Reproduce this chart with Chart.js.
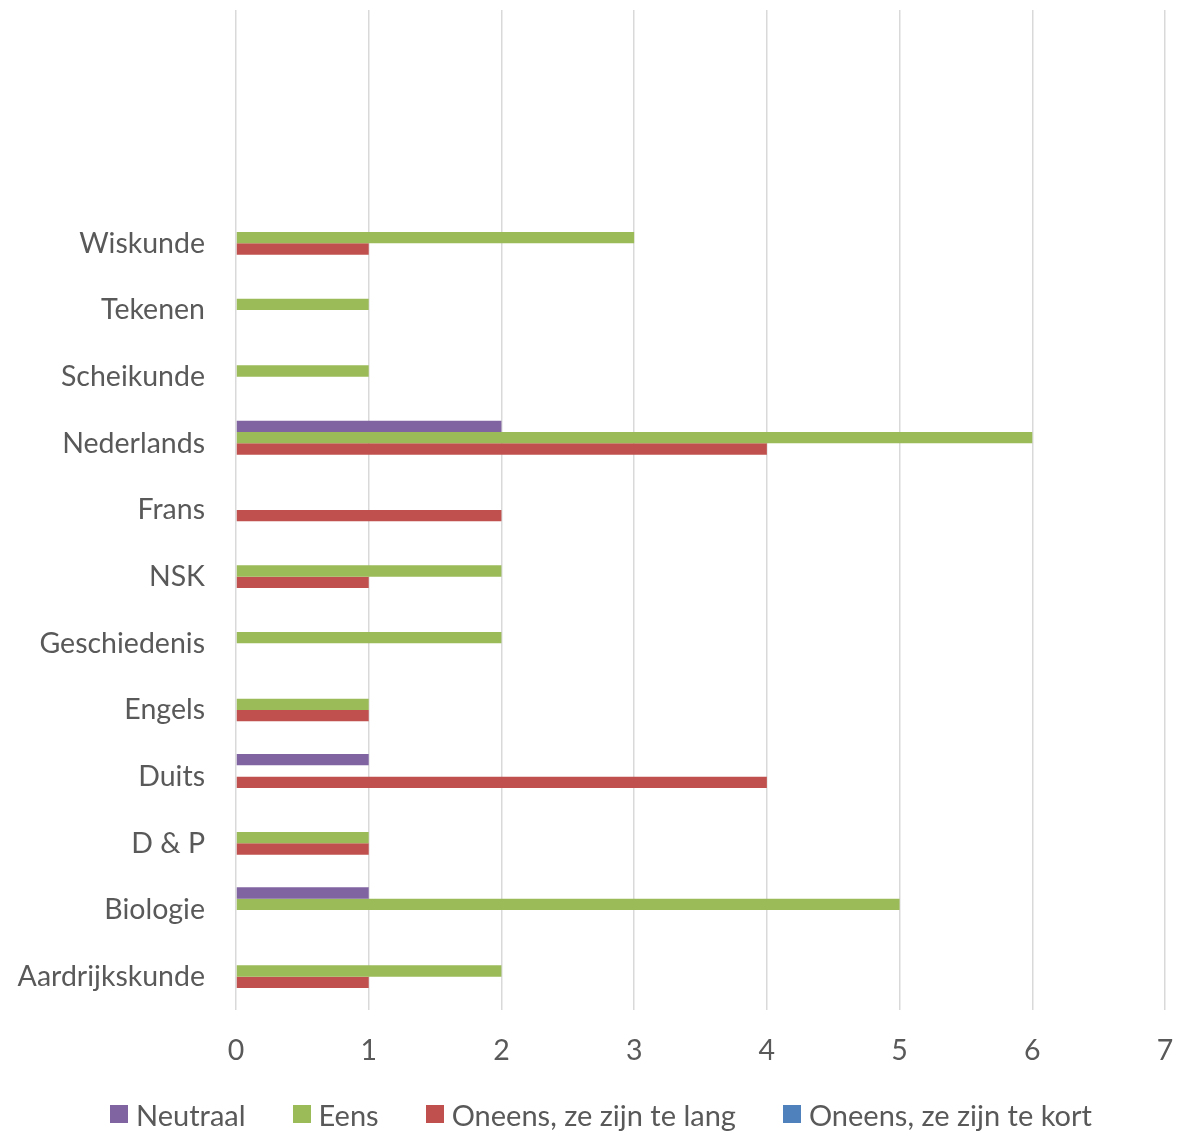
<!DOCTYPE html>
<html>
<head>
<meta charset="utf-8">
<title>Vakken</title>
<script src="https://cdn.jsdelivr.net/npm/chart.js"></script>
<style>
  html, body { margin: 0; padding: 0; background: #ffffff; }
  #wrap { position: relative; width: 1181px; height: 1135px; }
  #legend {
    position: absolute; left: 110px; top: 1095px; height: 38px;
    display: flex; align-items: center;
    font-family: Lato, "Open Sans", sans-serif; font-size: 29px; color: #595959;
    white-space: nowrap;
  }
  #legend .item { display: flex; align-items: center; margin-right: 47px; }
  #legend .box { width: 18px; height: 18px; margin-right: 8px; }
</style>
</head>
<body>
<div id="wrap">
  <canvas id="chart"></canvas>
  <div id="legend"></div>
</div>
<script>
// categories, top to bottom (the first three rows are empty in the original)
const subjects = ['', '', '', 'Wiskunde', 'Tekenen', 'Scheikunde', 'Nederlands', 'Frans', 'NSK',
  'Geschiedenis', 'Engels', 'Duits', 'D & P', 'Biologie', 'Aardrijkskunde'];

const neutraal   = [0, 0, 0, 0, 0, 0, 2, 0, 0, 0, 0, 1, 0, 1, 0];
const eens       = [0, 0, 0, 3, 1, 1, 6, 0, 2, 2, 1, 0, 1, 5, 2];
const oneensLang = [0, 0, 0, 1, 0, 0, 4, 2, 1, 0, 1, 4, 1, 0, 1];
const oneensKort = [0, 0, 0, 0, 0, 0, 0, 0, 0, 0, 0, 0, 0, 0, 0];

const xTicks = [0, 1, 2, 3, 4, 5, 6, 7];

const textColor = '#595959';
const fontFamily = 'Lato, "Open Sans", sans-serif';
const fontSize = 28.5;

const chart = new Chart(document.getElementById('chart'), {
  type: 'bar',
  data: {
    labels: subjects,
    datasets: [
      { label: 'Neutraal', data: neutraal, backgroundColor: '#8064A2' },
      { label: 'Eens', data: eens, backgroundColor: '#9BBB59' },
      { label: 'Oneens, ze zijn te lang', data: oneensLang, backgroundColor: '#C0504D' },
      { label: 'Oneens, ze zijn te kort', data: oneensKort, backgroundColor: '#4F81BD' }
    ]
  },
  options: {
    indexAxis: 'y',
    responsive: true,
    maintainAspectRatio: false,
    animation: false,
    datasets: {
      bar: { categoryPercentage: 0.68, barPercentage: 1.0, borderWidth: 0 }
    },
    layout: { padding: { top: 10, right: 16, left: 0, bottom: 55 } },
    scales: {
      x: {
        min: xTicks[0],
        max: xTicks[xTicks.length - 1],
        afterBuildTicks: (axis) => { axis.ticks = xTicks.map(v => ({ value: v })); },
        grid: { color: '#D9D9D9', lineWidth: 1.5, drawTicks: false },
        border: { display: false },
        ticks: { color: textColor, font: { family: fontFamily, size: fontSize }, padding: 24 },
        afterFit: (axis) => {
          axis.height = 70;
          axis.paddingLeft = 0;
          axis.paddingRight = 0;
        }
      },
      y: {
        grid: { display: false, drawTicks: false },
        border: { display: false },
        ticks: { color: textColor, font: { family: fontFamily, size: fontSize }, padding: 31, autoSkip: false },
        afterFit: (axis) => {
          axis.width = 236;
          axis.paddingTop = 0;
          axis.paddingBottom = 0;
        }
      }
    },
    plugins: {
      tooltip: { enabled: false },
      legend: { display: false }
    }
  }
});

// legend as text, built from the datasets
const legendEl = document.getElementById('legend');
chart.data.datasets.forEach(ds => {
  const item = document.createElement('div');
  item.className = 'item';
  const box = document.createElement('span');
  box.className = 'box';
  box.style.background = ds.backgroundColor;
  const txt = document.createElement('span');
  txt.textContent = ds.label;
  item.appendChild(box);
  item.appendChild(txt);
  legendEl.appendChild(item);
});
</script>
</body>
</html>
